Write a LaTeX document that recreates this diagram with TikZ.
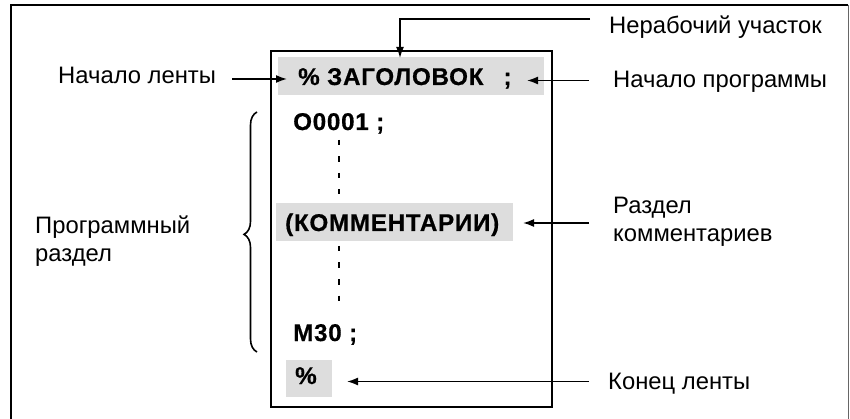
\documentclass[tikz,border=0pt]{standalone}
\usepackage{fontspec}
\setmainfont{Liberation Sans}
\newfontfamily\codefont[LetterSpace=3,BoldFeatures={FakeBold=0.6}]{Liberation Sans}
\usetikzlibrary{arrows.meta,decorations.pathreplacing}
\definecolor{bandgrey}{HTML}{DDDDDD}
\tikzset{
  lbl/.style={inner sep=0pt, anchor=base west, font=\fontsize{23.8}{28}\selectfont},
  code/.style={inner sep=0pt, anchor=base west, font=\codefont\fontsize{24.2}{28}\selectfont\bfseries},
  band/.style={fill=bandgrey, draw=none, inner sep=0pt, anchor=north west},
  arr/.style={line width=1.6pt, -{Latex[length=11pt,width=8pt]}},
  frame/.style={line width=1.2pt},
  boxline/.style={line width=1.8pt},
  dots/.style={line width=2.6pt, dash pattern=on 5.5pt off 11pt},
}
\begin{document}
\begin{tikzpicture}[x=1pt,y=-1pt]
\useasboundingbox (0,0) rectangle (850,419);
% outer frame (bottom edge outside the picture)
\draw[frame] (11,425) -- (11,5) -- (848,5);
\draw[line width=1pt, draw=black!60] (848,5) -- (848,425);
% inner box
\node[draw, boxline, inner sep=0pt, anchor=north west, minimum width=281pt, minimum height=356pt] (tape) at (270,50) {};
% grey bands
\node[band, minimum width=266pt, minimum height=38pt] (hdrbox) at (278,57) {};
\node[band, minimum width=237pt, minimum height=38pt] (cmtbox) at (276,203) {};
\node[band, minimum width=46pt, minimum height=37pt] (endbox) at (286,360) {};
% code text
\node[code] (hdr) at (298,85) {\% ЗАГОЛОВОК\hspace{20pt};};
\node[code] (o1) at (293,130) {O0001 ;};
\node[code] (cmt) at (285,231) {(КОММЕНТАРИИ)};
\node[code] (m30) at (293,341) {M30 ;};
\node[code] (pct) at (295,384) {\%};
% dashed continuation
\coordinate (d1a) at (339,140);
\coordinate (d1b) at (339,194);
\coordinate (d2a) at (339,246);
\coordinate (d2b) at (339,308);
\draw[dots] (d1a) -- (d1b);
\draw[dots] (d2a) -- (d2b);
% labels
\node[lbl] (nu) at (609,34) {Нерабочий участок};
\node[lbl] (np) at (613,88) {Начало программы};
\node[lbl] (nl) at (58,84) {Начало ленты};
\node[lbl, align=left, anchor=west] (pr) at (35,241) {Программный\\раздел};
\node[lbl, align=left, anchor=west] (rk) at (613,222) {Раздел\\комментариев};
\node[lbl] (kl) at (608,389) {Конец ленты};
% arrows
\coordinate (a1s) at (590,19);
\coordinate (a1c) at (400,19);
\coordinate (a1t) at (400,58);
\draw[arr] (a1s) -- (a1c) -- (a1t);
\coordinate (a2s) at (589,80.5);
\coordinate (a2t) at (527,80.5);
\draw[arr] (a2s) -- (a2t);
\coordinate (a3s) at (232,79);
\coordinate (a3t) at (287,79);
\draw[arr] (a3s) -- (a3t);
\coordinate (a4s) at (589,223);
\coordinate (a4t) at (523,223);
\draw[arr] (a4s) -- (a4t);
\coordinate (a5s) at (589,381.5);
\coordinate (a5t) at (347,381.5);
\draw[arr] (a5s) -- (a5t);
% brace
\coordinate (bt) at (257,112);
\coordinate (bb) at (257,352);
\draw[line width=1.6pt, decorate, decoration={brace, amplitude=13pt, aspect=0.49}] (bb) -- (bt);
\end{tikzpicture}
\end{document}
